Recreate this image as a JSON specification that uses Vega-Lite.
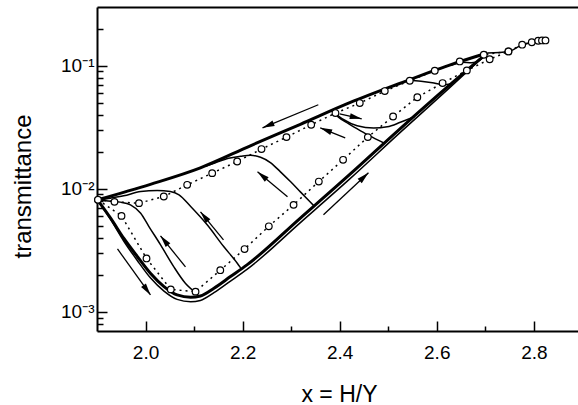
{
  "$schema": "https://vega.github.io/schema/vega-lite/v6.json",
  "width": 481,
  "height": 324,
  "autosize": {"type": "none"},
  "padding": {"left": 97, "top": 7, "right": 0, "bottom": 74},
  "background": "white",
  "config": {
    "view": {"stroke": null},
    "font": "Liberation Sans",
    "axis": {
      "grid": false,
      "domainColor": "black",
      "domainWidth": 2,
      "tickColor": "black",
      "tickWidth": 1.5,
      "labelColor": "black",
      "labelFont": "Liberation Sans",
      "labelFontSize": 19,
      "labelOverlap": false,
      "labelFlush": false,
      "titleColor": "black",
      "titleFont": "Liberation Sans",
      "titleFontWeight": "normal"
    }
  },
  "datasets": {
    "curves": [
      {"curve": "major-up", "x": 1.901, "y": 0.00814},
      {"curve": "major-up", "x": 1.928, "y": 0.00578},
      {"curve": "major-up", "x": 1.955, "y": 0.00397},
      {"curve": "major-up", "x": 1.983, "y": 0.00282},
      {"curve": "major-up", "x": 2.010, "y": 0.00206},
      {"curve": "major-up", "x": 2.038, "y": 0.001606},
      {"curve": "major-up", "x": 2.065, "y": 0.001375},
      {"curve": "major-up", "x": 2.093, "y": 0.001317},
      {"curve": "major-up", "x": 2.113, "y": 0.001349},
      {"curve": "major-up", "x": 2.141, "y": 0.001559},
      {"curve": "major-up", "x": 2.175, "y": 0.001937},
      {"curve": "major-up", "x": 2.209, "y": 0.00241},
      {"curve": "major-up", "x": 2.319, "y": 0.00579},
      {"curve": "major-up", "x": 2.422, "y": 0.01322},
      {"curve": "major-up", "x": 2.522, "y": 0.03018},
      {"curve": "major-up", "x": 2.625, "y": 0.0689},
      {"curve": "major-up", "x": 2.704, "y": 0.1268},

      {"curve": "major-down", "x": 2.704, "y": 0.1268},
      {"curve": "major-down", "x": 2.625, "y": 0.1008},
      {"curve": "major-down", "x": 2.522, "y": 0.0714},
      {"curve": "major-down", "x": 2.422, "y": 0.0503},
      {"curve": "major-down", "x": 2.319, "y": 0.03345},
      {"curve": "major-down", "x": 2.216, "y": 0.02237},
      {"curve": "major-down", "x": 2.113, "y": 0.01481},
      {"curve": "major-down", "x": 2.010, "y": 0.01088},
      {"curve": "major-down", "x": 1.901, "y": 0.00814},

      {"curve": "outer-up", "x": 1.901, "y": 0.00814},
      {"curve": "outer-up", "x": 1.928, "y": 0.00564},
      {"curve": "outer-up", "x": 1.955, "y": 0.00377},
      {"curve": "outer-up", "x": 1.983, "y": 0.00262},
      {"curve": "outer-up", "x": 2.010, "y": 0.001893},
      {"curve": "outer-up", "x": 2.038, "y": 0.001476},
      {"curve": "outer-up", "x": 2.065, "y": 0.001264},
      {"curve": "outer-up", "x": 2.093, "y": 0.00121},
      {"curve": "outer-up", "x": 2.113, "y": 0.00124},
      {"curve": "outer-up", "x": 2.141, "y": 0.001433},
      {"curve": "outer-up", "x": 2.175, "y": 0.00178},
      {"curve": "outer-up", "x": 2.209, "y": 0.002215},
      {"curve": "outer-up", "x": 2.319, "y": 0.00532},
      {"curve": "outer-up", "x": 2.422, "y": 0.01215},
      {"curve": "outer-up", "x": 2.522, "y": 0.02807},
      {"curve": "outer-up", "x": 2.625, "y": 0.0655},
      {"curve": "outer-up", "x": 2.704, "y": 0.1268},

      {"curve": "tail", "x": 2.704, "y": 0.1268},
      {"curve": "tail", "x": 2.748, "y": 0.1307},
      {"curve": "tail", "x": 2.776, "y": 0.1482},
      {"curve": "tail", "x": 2.795, "y": 0.1547},
      {"curve": "tail", "x": 2.824, "y": 0.1597},

      {"curve": "rev-a", "x": 2.107, "y": 0.0014},
      {"curve": "rev-a", "x": 2.082, "y": 0.001711},
      {"curve": "rev-a", "x": 2.058, "y": 0.002335},
      {"curve": "rev-a", "x": 2.031, "y": 0.003505},
      {"curve": "rev-a", "x": 2.007, "y": 0.00494},
      {"curve": "rev-a", "x": 1.990, "y": 0.00634},
      {"curve": "rev-a", "x": 1.969, "y": 0.00741},
      {"curve": "rev-a", "x": 1.948, "y": 0.0078},
      {"curve": "rev-a", "x": 1.918, "y": 0.00799},
      {"curve": "rev-a", "x": 1.901, "y": 0.00814},

      {"curve": "rev-b", "x": 2.196, "y": 0.002279},
      {"curve": "rev-b", "x": 2.189, "y": 0.002489},
      {"curve": "rev-b", "x": 2.161, "y": 0.003396},
      {"curve": "rev-b", "x": 2.127, "y": 0.0051},
      {"curve": "rev-b", "x": 2.093, "y": 0.00718},
      {"curve": "rev-b", "x": 2.069, "y": 0.00894},
      {"curve": "rev-b", "x": 2.051, "y": 0.00951},
      {"curve": "rev-b", "x": 2.024, "y": 0.00969},
      {"curve": "rev-b", "x": 1.990, "y": 0.00951},
      {"curve": "rev-b", "x": 1.955, "y": 0.00877},
      {"curve": "rev-b", "x": 1.928, "y": 0.0084},
      {"curve": "rev-b", "x": 1.904, "y": 0.00814},

      {"curve": "rev-c", "x": 2.348, "y": 0.0072},
      {"curve": "rev-c", "x": 2.319, "y": 0.00945},
      {"curve": "rev-c", "x": 2.299, "y": 0.0114},
      {"curve": "rev-c", "x": 2.278, "y": 0.01374},
      {"curve": "rev-c", "x": 2.258, "y": 0.01627},
      {"curve": "rev-c", "x": 2.237, "y": 0.01803},
      {"curve": "rev-c", "x": 2.216, "y": 0.01872},
      {"curve": "rev-c", "x": 2.196, "y": 0.01837},
      {"curve": "rev-c", "x": 2.171, "y": 0.0177},
      {"curve": "rev-c", "x": 2.144, "y": 0.01627},
      {"curve": "rev-c", "x": 2.124, "y": 0.01524},

      {"curve": "rev-d", "x": 2.492, "y": 0.02344},
      {"curve": "rev-d", "x": 2.468, "y": 0.0262},
      {"curve": "rev-d", "x": 2.443, "y": 0.0296},
      {"curve": "rev-d", "x": 2.418, "y": 0.0338},
      {"curve": "rev-d", "x": 2.398, "y": 0.0381},
      {"curve": "rev-d", "x": 2.383, "y": 0.0435},

      {"curve": "fwd-a", "x": 2.383, "y": 0.0435},
      {"curve": "fwd-a", "x": 2.4085, "y": 0.0364},
      {"curve": "fwd-a", "x": 2.436, "y": 0.0325},
      {"curve": "fwd-a", "x": 2.470, "y": 0.03115},
      {"curve": "fwd-a", "x": 2.498, "y": 0.0319},
      {"curve": "fwd-a", "x": 2.525, "y": 0.0347},
      {"curve": "fwd-a", "x": 2.554, "y": 0.0385},

      {"curve": "fwd-b", "x": 2.541, "y": 0.0762},
      {"curve": "fwd-b", "x": 2.5675, "y": 0.0748},
      {"curve": "fwd-b", "x": 2.591, "y": 0.0727},
      {"curve": "fwd-b", "x": 2.612, "y": 0.0702},
      {"curve": "fwd-b", "x": 2.632, "y": 0.0715},

      {"curve": "fwd-c", "x": 2.631, "y": 0.1015},
      {"curve": "fwd-c", "x": 2.652, "y": 0.1065},
      {"curve": "fwd-c", "x": 2.672, "y": 0.1058},
      {"curve": "fwd-c", "x": 2.688, "y": 0.1105},
      {"curve": "fwd-c", "x": 2.700, "y": 0.122}
    ],
    "measured": [
      {"run": "up", "x": 1.902, "y": 0.00814},
      {"run": "up", "x": 1.9505, "y": 0.00603},
      {"run": "up", "x": 2.002, "y": 0.00272},
      {"run": "up", "x": 2.052, "y": 0.001524},
      {"run": "up", "x": 2.103, "y": 0.001462},
      {"run": "up", "x": 2.154, "y": 0.002183},
      {"run": "up", "x": 2.204, "y": 0.00324},
      {"run": "up", "x": 2.254, "y": 0.00496},
      {"run": "up", "x": 2.305, "y": 0.00741},
      {"run": "up", "x": 2.357, "y": 0.01146},
      {"run": "up", "x": 2.407, "y": 0.01721},
      {"run": "up", "x": 2.458, "y": 0.02632},
      {"run": "up", "x": 2.510, "y": 0.0387},
      {"run": "up", "x": 2.560, "y": 0.0555},
      {"run": "up", "x": 2.612, "y": 0.0723},
      {"run": "up", "x": 2.662, "y": 0.0916},
      {"run": "up", "x": 2.709, "y": 0.1129},
      {"run": "up", "x": 2.7477, "y": 0.1307},
      {"run": "up", "x": 2.776, "y": 0.1482},
      {"run": "up", "x": 2.7958, "y": 0.1552},
      {"run": "up", "x": 2.809, "y": 0.1596},
      {"run": "up", "x": 2.8168, "y": 0.1605},
      {"run": "up", "x": 2.824, "y": 0.1605},

      {"run": "down", "x": 2.7477, "y": 0.1307},
      {"run": "down", "x": 2.6969, "y": 0.1228},
      {"run": "down", "x": 2.6474, "y": 0.1084},
      {"run": "down", "x": 2.5959, "y": 0.09107},
      {"run": "down", "x": 2.5444, "y": 0.07551},
      {"run": "down", "x": 2.4929, "y": 0.06225},
      {"run": "down", "x": 2.4414, "y": 0.04973},
      {"run": "down", "x": 2.3913, "y": 0.04124},
      {"run": "down", "x": 2.3413, "y": 0.03314},
      {"run": "down", "x": 2.2904, "y": 0.02632},
      {"run": "down", "x": 2.2389, "y": 0.02103},
      {"run": "down", "x": 2.1888, "y": 0.01667},
      {"run": "down", "x": 2.1373, "y": 0.01341},
      {"run": "down", "x": 2.0858, "y": 0.01078},
      {"run": "down", "x": 2.0376, "y": 0.00866},
      {"run": "down", "x": 1.9865, "y": 0.00765},
      {"run": "down", "x": 1.936, "y": 0.00784},
      {"run": "down", "x": 1.902, "y": 0.00814}
    ],
    "arrows": [
      {"x": 2.356, "y": 0.0482, "x2": 2.241, "y2": 0.03133, "heading": 247.7},
      {"x": 2.2925, "y": 0.00861, "x2": 2.2307, "y2": 0.01374, "heading": 309.8},
      {"x": 2.1606, "y": 0.00385, "x2": 2.1132, "y2": 0.0065, "heading": 320.6},
      {"x": 2.0823, "y": 0.00232, "x2": 2.0308, "y2": 0.00415, "heading": 321.1},
      {"x": 1.9422, "y": 0.00325, "x2": 2.0102, "y2": 0.001374, "heading": 144.3},
      {"x": 2.3666, "y": 0.00615, "x2": 2.4593, "y2": 0.01349, "heading": 47.0},
      {"x": 2.4, "y": 0.0407, "x2": 2.4454, "y2": 0.03707, "heading": 102.8},
      {"x": 2.4114, "y": 0.02598, "x2": 2.3599, "y2": 0.03133, "heading": 291.8}
    ]
  },
  "layer": [
    {
      "data": {"name": "curves"},
      "transform": [{"filter": {"field": "curve", "oneOf": ["major-up", "major-down"]}}],
      "mark": {"type": "line", "color": "black", "strokeWidth": 3, "strokeJoin": "round", "interpolate": "monotone"},
      "encoding": {
        "x": {
          "field": "x",
          "type": "quantitative",
          "scale": {"domain": [1.9, 2.891], "nice": false, "zero": false},
          "axis": {
            "orient": "bottom",
            "values": [2.0, 2.1, 2.2, 2.3, 2.4, 2.5, 2.6, 2.7, 2.8],
            "labelExpr": "round(datum.value * 10) % 2 == 0 ? format(datum.value, '.1f') : ''",
            "tickSize": {"condition": {"test": "round(datum.value * 10) % 2 == 0", "value": -10}, "value": -5},
            "labelBaseline": "alphabetic",
            "labelPadding": 37,
            "title": "x = H/Y",
            "titleFontSize": 23,
            "titleBaseline": "alphabetic",
            "titleAlign": "center",
            "titleX": 242,
            "titleY": 70
          }
        },
        "y": {
          "field": "y",
          "type": "quantitative",
          "scale": {"type": "log", "domain": [0.0007, 0.3], "nice": false},
          "axis": {
            "orient": "left",
            "values": [0.0008, 0.0009, 0.001, 0.002, 0.003, 0.004, 0.005, 0.006, 0.007, 0.008, 0.009, 0.01, 0.02, 0.03, 0.04, 0.05, 0.06, 0.07, 0.08, 0.09, 0.1, 0.2],
            "labelExpr": "datum.value == 0.1 ? '10\u207b\u00b9' : datum.value == 0.01 ? '10\u207b\u00b2' : datum.value == 0.001 ? '10\u207b\u00b3' : ''",
            "tickSize": {"condition": {"test": "datum.value == 0.1 || datum.value == 0.01 || datum.value == 0.001", "value": -10}, "value": -6},
            "labelPadding": 13,
            "labelBaseline": "middle",
            "title": "transmittance",
            "titleFontSize": 24,
            "titleAngle": 270,
            "titleBaseline": "alphabetic",
            "titleAlign": "center",
            "titleX": -67,
            "titleY": 179
          }
        },
        "detail": {"field": "curve", "type": "nominal"}
      }
    },
    {
      "data": {"name": "curves"},
      "transform": [{"filter": {"not": {"field": "curve", "oneOf": ["major-up", "major-down"]}}}],
      "mark": {"type": "line", "color": "black", "strokeWidth": 1.5, "strokeJoin": "round", "interpolate": "monotone"},
      "encoding": {
        "x": {"field": "x", "type": "quantitative", "axis": null},
        "y": {"field": "y", "type": "quantitative"},
        "detail": {"field": "curve", "type": "nominal"}
      }
    },
    {
      "data": {"name": "measured"},
      "mark": {"type": "line", "color": "black", "strokeWidth": 1.5, "strokeDash": [2, 4]},
      "encoding": {
        "x": {"field": "x", "type": "quantitative", "axis": null},
        "y": {"field": "y", "type": "quantitative"},
        "detail": {"field": "run", "type": "nominal"}
      }
    },
    {
      "data": {"name": "measured"},
      "mark": {"type": "point", "shape": "circle", "filled": true, "fill": "white", "stroke": "black", "strokeWidth": 1.2, "size": 44, "opacity": 1},
      "encoding": {
        "x": {
          "field": "x",
          "type": "quantitative",
          "axis": {"orient": "top", "labels": false, "ticks": false, "title": null, "domainColor": "black", "domainWidth": 2}
        },
        "y": {"field": "y", "type": "quantitative"}
      }
    },
    {
      "data": {"name": "arrows"},
      "mark": {"type": "rule", "color": "black", "strokeWidth": 1.3},
      "encoding": {
        "x": {"field": "x", "type": "quantitative", "axis": null},
        "y": {"field": "y", "type": "quantitative"},
        "x2": {"field": "x2"},
        "y2": {"field": "y2"}
      }
    },
    {
      "data": {"name": "arrows"},
      "mark": {"type": "point", "shape": "M0,0L0.5,2L-0.5,2Z", "filled": true, "color": "black", "opacity": 1, "size": 144},
      "encoding": {
        "x": {"field": "x2", "type": "quantitative", "axis": null},
        "y": {"field": "y2", "type": "quantitative"},
        "angle": {"field": "heading", "type": "quantitative", "scale": null}
      }
    }
  ],
  "resolve": {"axis": {"x": "independent"}}
}
